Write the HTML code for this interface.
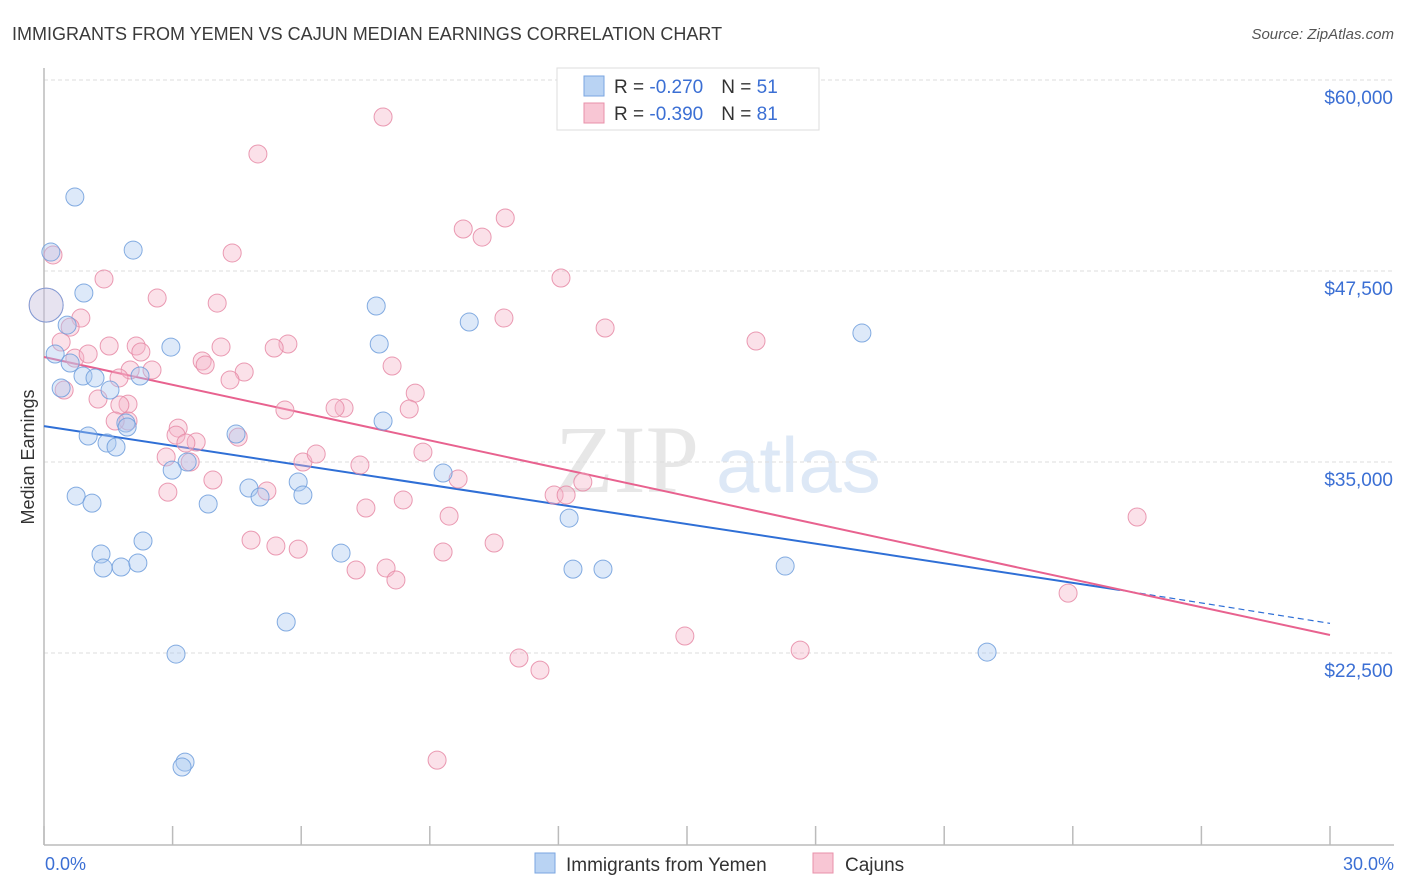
<!DOCTYPE html>
<html><head><meta charset="utf-8">
<style>
body{margin:0;background:#fff;font-family:"Liberation Sans",sans-serif;}
svg{display:block}
</style></head>
<body>
<svg id="chart" width="1406" height="892" viewBox="0 0 1406 892">
<text x="12" y="40" font-size="18" fill="#3a3a3a">IMMIGRANTS FROM YEMEN VS CAJUN MEDIAN EARNINGS CORRELATION CHART</text>
<text x="1394" y="39" font-size="15" fill="#555" text-anchor="end" font-style="italic">Source: ZipAtlas.com</text>
<g>
<text x="555" y="492" font-size="96" fill="#d8d8d8" font-family="Liberation Serif,serif" opacity="0.6">ZIP</text>
<text x="716" y="492" font-size="78" fill="#bcd2ee" opacity="0.5">atlas</text>
</g>
<g id="grid"></g>
<g id="axes"></g>
<g id="lines"></g>
<g id="points"></g>
<text transform="translate(34,457) rotate(-90)" font-size="18" fill="#333" text-anchor="middle">Median Earnings</text>
<text x="45" y="870" font-size="18" fill="#3b6fd4">0.0%</text>
<text x="1394" y="870" font-size="18" fill="#3b6fd4" text-anchor="end">30.0%</text>
<g>
<rect x="557" y="68" width="262" height="62" fill="#fff" stroke="#ddd"/>
<rect x="584" y="76" width="20" height="20" fill="#b9d3f3" stroke="#7aa6e0"/>
<text x="614" y="93" font-size="19" fill="#333">R = <tspan fill="#3b6fd4">-0.270</tspan><tspan dx="18">N = </tspan><tspan fill="#3b6fd4">51</tspan></text>
<rect x="584" y="103" width="20" height="20" fill="#f8c6d4" stroke="#e890aa"/>
<text x="614" y="120" font-size="19" fill="#333">R = <tspan fill="#3b6fd4">-0.390</tspan><tspan dx="18">N = </tspan><tspan fill="#3b6fd4">81</tspan></text>
</g>
<g>
<rect x="535" y="853" width="20" height="20" fill="#b9d3f3" stroke="#7aa6e0"/>
<text x="566" y="871" font-size="19" fill="#333">Immigrants from Yemen</text>
<rect x="813" y="853" width="20" height="20" fill="#f8c6d4" stroke="#e890aa"/>
<text x="845" y="871" font-size="19" fill="#333">Cajuns</text>
</g>
</svg>
<script>
const yTicks=[60000,47500,35000,22500];
const yTickLabels=["$60,000","$47,500","$35,000","$22,500"];
const xTicks=[0,3,6,9,12,15,18,21,24,27,30];
const yemenX=[0.72,0.16,2.08,0.93,7.75,9.92,19.08,0.54,2.96,7.82,0.26,0.61,0.91,1.19,2.24,1.54,0.40,1.91,1.94,4.48,1.03,1.47,1.68,7.91,3.34,2.99,9.31,4.78,5.93,5.04,6.04,0.75,1.12,3.83,12.25,2.31,1.33,1.38,1.80,2.19,6.93,12.34,13.04,17.29,5.65,3.08,22.00,3.29,3.22,0.05];
const yemenY=[52340,48740,48870,46060,45210,44160,43440,43960,42520,42720,42070,41480,40630,40500,40630,39710,39840,37550,37290,36830,36700,36240,35980,37680,35000,34470,34280,33300,33690,32710,32840,32770,32310,32250,31330,29830,28980,28060,28130,28390,29040,27990,27990,28190,24530,22430,22560,15360,15040,45270];
const cajunX=[7.91,4.99,10.76,9.78,10.22,12.06,0.21,4.39,1.40,2.64,4.04,10.73,13.09,0.86,0.61,16.61,0.40,5.69,5.37,4.13,2.15,1.52,0.72,1.03,2.26,3.69,3.76,8.12,2.52,2.01,4.67,4.34,1.75,0.47,1.26,8.66,1.96,1.77,7.00,6.79,8.52,5.62,3.13,1.96,1.66,4.53,3.08,3.55,3.31,8.84,2.85,6.04,6.35,3.41,7.37,9.66,3.94,12.57,2.89,11.90,12.18,8.38,5.20,7.51,9.45,25.50,4.83,10.50,5.41,5.93,9.31,7.28,7.98,8.21,23.89,14.95,17.64,11.08,11.57,9.17,0.05];
const cajunY=[57580,55160,50970,50250,49720,47040,48550,48680,46980,45730,45400,44420,43770,44420,43830,42920,42850,42720,42460,42530,42590,42590,41800,42070,42200,41610,41350,41280,41020,41020,40890,40370,40500,39710,39120,39510,38790,38730,38530,38530,38470,38400,37220,37680,37680,36630,36760,36310,36240,35650,35330,35000,35520,35000,34800,33890,33820,33690,33030,32840,32840,32510,33100,31990,31460,31400,29890,29700,29500,29300,29110,27930,28060,27280,26420,23610,22690,22170,21380,15490,45270];
const yemenTrendX=[0,25.1,30];
const yemenTrendY=[37350,26620,24440];
const cajunTrendX=[0,30];
const cajunTrendY=[41870,23680];

const NS="http://www.w3.org/2000/svg";
const xs=v=>44+v/30*1286;
const ys=v=>80+(60000-v)*191/12500;
function mk(tag,attrs,parent){const e=document.createElementNS(NS,tag);for(const k in attrs)e.setAttribute(k,attrs[k]);document.getElementById(parent).appendChild(e);return e;}

yTicks.forEach((t,i)=>{
  const l=mk('line',{x1:44,x2:1394,y1:ys(t),y2:ys(t),stroke:'#ddd','stroke-dasharray':'4,3'},'grid');
  
  
  const tx=mk('text',{x:1393,y:ys(t)+24,'font-size':19,fill:'#3b6fd4','text-anchor':'end'},'grid');
  tx.textContent=yTickLabels[i];
  
  
});
const ax=mk('line',{x1:44,x2:44,y1:68,y2:845,stroke:'#bbb','stroke-width':1.5},'axes');


const bx=mk('line',{x1:44,x2:1394,y1:845,y2:845,stroke:'#bbb','stroke-width':1.5},'axes');


xTicks.forEach(t=>{
  const l=mk('line',{x1:xs(t),x2:xs(t),y1:826,y2:845,stroke:'#bbb','stroke-width':1.5},'axes');
  
  
});

function drawPts(X,Y,fill,stroke,name){
  X.forEach((x,i)=>{
    const big=(i===X.length-1);
    const c=mk('circle',{cx:xs(x),cy:ys(Y[i]),r:big?17:9,fill:fill,'fill-opacity':big?0.25:0.4,stroke:stroke,'stroke-width':1,'stroke-opacity':0.85},'points');
    
    
  });
}
drawPts(cajunX,cajunY,'#f6b4c7','#e68aa6','cajun-point');
drawPts(yemenX,yemenY,'#a9c8f0','#6f9edc','yemen-point');

const yl=mk('line',{x1:xs(yemenTrendX[0]),y1:ys(yemenTrendY[0]),x2:xs(yemenTrendX[1]),y2:ys(yemenTrendY[1]),stroke:'#2f6fd6','stroke-width':2},'lines');


const yd=mk('line',{x1:xs(yemenTrendX[1]),y1:ys(yemenTrendY[1]),x2:xs(yemenTrendX[2]),y2:ys(yemenTrendY[2]),stroke:'#2f6fd6','stroke-width':1.2,'stroke-dasharray':'6,4'},'lines');


const cl=mk('line',{x1:xs(cajunTrendX[0]),y1:ys(cajunTrendY[0]),x2:xs(cajunTrendX[1]),y2:ys(cajunTrendY[1]),stroke:'#e8628f','stroke-width':2},'lines');


</script>
</body></html>
